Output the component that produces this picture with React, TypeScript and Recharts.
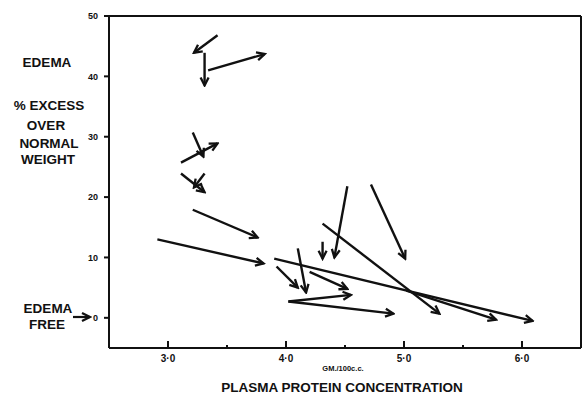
import { ComposedChart, Line, XAxis, YAxis } from 'recharts';

// arrow start / end points (x = g/100cc, y = % excess weight)
const arrowStartX = [3.42, 3.31, 3.34, 3.21, 3.11, 3.11, 3.31, 3.21, 2.91, 3.9, 4.31, 5.02, 4.52, 4.72, 4.31, 4.1, 3.92, 4.2, 4.02, 4.02];
const arrowStartY = [46.8, 43.9, 41.0, 30.7, 25.7, 23.9, 23.9, 17.9, 13.0, 9.8, 15.6, 4.5, 21.8, 22.1, 12.6, 11.5, 8.5, 7.6, 2.7, 2.7];
const arrowEndX = [3.22, 3.31, 3.82, 3.3, 3.42, 3.31, 3.22, 3.76, 3.81, 6.09, 5.3, 5.78, 4.41, 5.01, 4.31, 4.17, 4.1, 4.52, 4.55, 4.91];
const arrowEndY = [43.9, 38.5, 43.7, 26.7, 28.9, 20.8, 21.6, 13.3, 9.0, -0.5, 0.7, -0.3, 10.0, 9.8, 9.8, 4.2, 5.0, 4.8, 3.8, 0.7];

const xTicks = [3, 3.5, 4, 4.5, 5, 5.5, 6];
const xTickLabels = ['3·0', '', '4·0', '', '5·0', '', '6·0'];
const yTicks = [0, 10, 20, 30, 40, 50];

const font = '"Liberation Sans", Arial, sans-serif';
const ink = '#111';

const arrows = arrowStartX.map((x, i) => [
  { x, y: arrowStartY[i] },
  { x: arrowEndX[i], y: arrowEndY[i] },
]);

function BottomTick(props: any) {
  const { x, y, payload } = props;
  const i = xTicks.indexOf(payload.value);
  const major = xTickLabels[i] !== '';
  return (
    <g>
      <line x1={x} x2={x} y1={y} y2={y - (major ? 7 : 3)} stroke={ink} strokeWidth={2} />
      {major && (
        <text x={x} y={y + 14} textAnchor="middle" fontSize={10} fontWeight="bold" fontFamily={font} fill={ink}>
          {xTickLabels[i]}
        </text>
      )}
    </g>
  );
}

function TopTick(props: any) {
  const { x, y, payload } = props;
  const major = Number.isInteger(payload.value);
  return <line x1={x} x2={x} y1={y} y2={y + (major ? 8 : 3)} stroke={ink} strokeWidth={2} />;
}

function RightTick(props: any) {
  const { x, y } = props;
  return <line x1={x} x2={x - 8} y1={y} y2={y} stroke={ink} strokeWidth={2} />;
}

const label: React.CSSProperties = {
  position: 'absolute',
  fontFamily: font,
  fontWeight: 'bold',
  fontSize: 13.5,
  color: ink,
  whiteSpace: 'nowrap',
  transform: 'translate(-50%, -50%)',
  lineHeight: 1,
};

export default function App() {
  return (
    <div style={{ position: 'absolute', left: 0, top: 0, width: 582, height: 395, background: '#fff' }}>
      <svg width={582} height={395} style={{ position: 'absolute', left: 0, top: 0, pointerEvents: 'none' }}>
        <defs>
          <marker
            id="arrowHead"
            viewBox="-10 -6 12 12"
            refX={0}
            refY={0}
            markerWidth={12}
            markerHeight={12}
            markerUnits="userSpaceOnUse"
            orient="auto"
          >
            <path d="M-8,-4 L0,0 L-8,4" fill="none" stroke={ink} strokeWidth={2.3} />
          </marker>
        </defs>
        {/* pointer to the 0 line beside "EDEMA FREE" */}
        <line x1={73} y1={317} x2={90} y2={317} stroke={ink} strokeWidth={2.2} markerEnd="url(#arrowHead)" />
      </svg>
      <ComposedChart width={582} height={395} margin={{ top: 15, right: 0, bottom: 27, left: 69 }}>
        <XAxis
          dataKey="x"
          type="number"
          domain={[2.5, 6.5]}
          allowDataOverflow
          ticks={xTicks}
          interval={0}
          height={20}
          tickSize={0}
          tickMargin={0}
          tickLine={false}
          axisLine={{ stroke: ink, strokeWidth: 2 }}
          tick={<BottomTick />}
        />
        <XAxis
          xAxisId="top"
          orientation="top"
          type="number"
          domain={[2.5, 6.5]}
          ticks={xTicks}
          interval={0}
          height={1}
          tickSize={0}
          tickMargin={0}
          tickLine={false}
          axisLine={{ stroke: ink, strokeWidth: 2 }}
          tick={<TopTick />}
        />
        <YAxis
          type="number"
          domain={[-5, 50]}
          allowDataOverflow
          ticks={yTicks}
          interval={0}
          width={40}
          tickSize={5}
          tickMargin={6}
          tickLine={{ stroke: ink, strokeWidth: 2 }}
          axisLine={{ stroke: ink, strokeWidth: 2 }}
          tick={{ fontSize: 9, fontWeight: 'bold', fill: ink, fontFamily: font }}
        />
        <YAxis
          yAxisId="right"
          orientation="right"
          type="number"
          domain={[-5, 50]}
          ticks={[0, 10, 20, 30, 40]}
          interval={0}
          width={1}
          tickSize={0}
          tickMargin={0}
          tickLine={false}
          axisLine={{ stroke: ink, strokeWidth: 2 }}
          tick={<RightTick />}
        />
        {arrows.map((d, i) => (
          <Line
            key={i}
            data={d}
            dataKey="y"
            type="linear"
            stroke={ink}
            strokeWidth={2.4}
            dot={false}
            activeDot={false}
            legendType="none"
            markerEnd="url(#arrowHead)"
            isAnimationActive={false}
          />
        ))}
      </ComposedChart>

      <div style={{ ...label, left: 47, top: 63 }}>EDEMA</div>
      <div style={{ ...label, left: 49, top: 106 }}>% EXCESS</div>
      <div style={{ ...label, left: 46, top: 126 }}>OVER</div>
      <div style={{ ...label, left: 49, top: 144 }}>NORMAL</div>
      <div style={{ ...label, left: 48, top: 160 }}>WEIGHT</div>
      <div style={{ ...label, left: 48, top: 309 }}>EDEMA</div>
      <div style={{ ...label, left: 47, top: 325 }}>FREE</div>
      <div style={{ ...label, left: 343, top: 369, fontSize: 7.5 }}>GM./100c.c.</div>
      <div style={{ ...label, left: 342, top: 388 }}>PLASMA PROTEIN CONCENTRATION</div>
    </div>
  );
}
